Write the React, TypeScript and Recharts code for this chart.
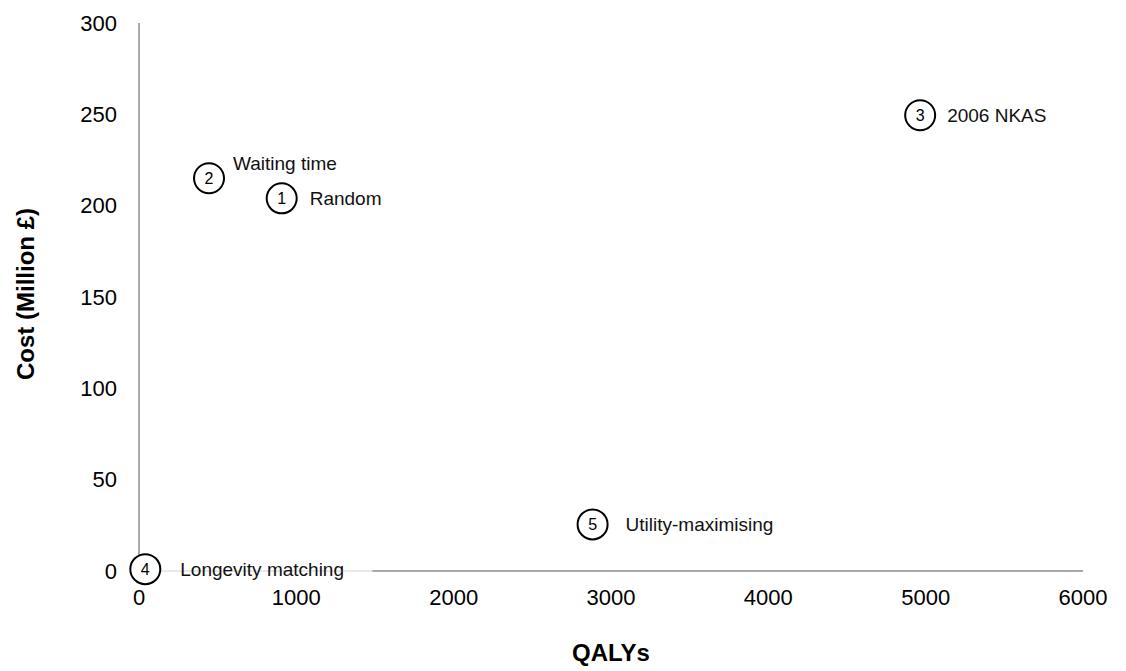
import React from 'react';
import { ScatterChart, Scatter, XAxis, YAxis } from 'recharts';

// allocation schemes: id, name, QALYs, cost (million £)
const schemeIds = [1, 2, 3, 4, 5];
const schemeNames = ['Random', 'Waiting time', '2006 NKAS', 'Longevity matching', 'Utility-maximising'];
const qalys = [907, 445, 4965, 40, 2883];
const costs = [204, 215, 249.5, 1, 25.5];

const xTicks = [0, 1000, 2000, 3000, 4000, 5000, 6000];
const yTicks = [0, 50, 100, 150, 200, 250, 300];

const data = schemeIds.map((id, i) => ({
  id,
  name: schemeNames[i],
  x: qalys[i],
  y: costs[i],
}));

// where each text label sits relative to its marker
const labelPlacement: Record<string, { dx: number; dy: number; boxed?: boolean }> = {
  'Random': { dx: 28, dy: 0 },
  'Waiting time': { dx: 24, dy: -15 },
  '2006 NKAS': { dx: 27, dy: 0 },
  'Longevity matching': { dx: 35, dy: 0, boxed: true },
  'Utility-maximising': { dx: 33, dy: 0 },
};

const font = '"Liberation Sans", Arial, sans-serif';
const axisColor = '#8c8c8c';

const Marker = (props: any) => {
  const { cx, cy, payload } = props;
  const place = labelPlacement[payload.name];
  return (
    <g>
      {place.boxed && (
        <rect x={cx + 15} y={cy - 12} width={212} height={24} fill="#ffffff" fillOpacity={0.75} />
      )}
      <circle cx={cx} cy={cy} r={15} fill="#ffffff" stroke="#000000" strokeWidth={2} />
      <text
        x={cx}
        y={cy}
        dy="0.36em"
        textAnchor="middle"
        fontSize={16}
        fontFamily={font}
        fill="#000000"
      >
        {payload.id}
      </text>
      <text
        x={cx + place.dx}
        y={cy + place.dy}
        dy="0.36em"
        fontSize={19}
        fontFamily={font}
        fill="#111111"
      >
        {payload.name}
      </text>
    </g>
  );
};

const App = () => {
  return (
    <div style={{ position: 'absolute', left: 0, top: 0, background: '#ffffff' }}>
      <ScatterChart width={1126} height={671} margin={{ top: 23, right: 43, bottom: 0, left: 39 }}>
        <XAxis
          type="number"
          dataKey="x"
          domain={[0, 6000]}
          ticks={xTicks}
          interval={0}
          height={100}
          axisLine={{ stroke: axisColor, strokeWidth: 1.5 }}
          tickLine={false}
          tickSize={0}
          tickMargin={18}
          tick={{ fontSize: 22, fill: '#000000', fontFamily: font }}
          label={{
            content: () => (
              <text
                x={611}
                y={652}
                dy="0.36em"
                textAnchor="middle"
                fontSize={24}
                fontWeight="bold"
                fontFamily={font}
                fill="#000000"
              >
                QALYs
              </text>
            ),
          }}
        />
        <YAxis
          type="number"
          dataKey="y"
          domain={[0, 300]}
          ticks={yTicks}
          interval={0}
          width={100}
          axisLine={{ stroke: axisColor, strokeWidth: 1.5 }}
          tickLine={false}
          tickSize={0}
          tickMargin={22}
          tick={{ fontSize: 22, fill: '#000000', fontFamily: font }}
          label={{
            content: () => (
              <text
                x={25}
                y={294}
                dy="0.36em"
                textAnchor="middle"
                transform="rotate(-90 25 294)"
                fontSize={24}
                fontWeight="bold"
                fontFamily={font}
                fill="#000000"
              >
                Cost (Million £)
              </text>
            ),
          }}
        />
        <Scatter data={data} shape={Marker} isAnimationActive={false} />
      </ScatterChart>
    </div>
  );
};

export default App;
